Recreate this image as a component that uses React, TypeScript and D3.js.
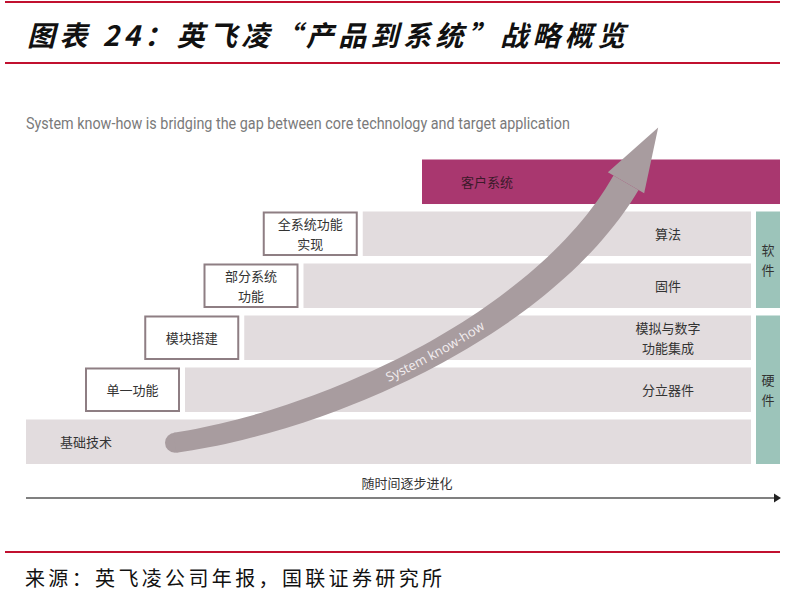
import React from 'react';
import * as d3 from 'd3';

const titleText = '图表 24：英飞凌“产品到系统”战略概览';
const subtitleText = 'System know-how is bridging the gap between core technology and target application';
const sourceText = '来源：英飞凌公司年报，国联证券研究所';
const axisLabel = '随时间逐步进化';
const arrowLabel = 'System know-how';

// rows from top to bottom, with level (0 = foundation)
const rowNames = ['客户系统', '算法', '固件', '模拟与数字\n功能集成', '分立器件', '基础技术'];
const rowLevels = [5, 4, 3, 2, 1, 0];
// step boxes: label and level they attach to
const stepLabels = ['单一功能', '模块搭建', '部分系统\n功能', '全系统功能\n实现'];
const stepLevels = [1, 2, 3, 4];
// side groups
const groupLabels = ['软件', '硬件'];
const groupRows = [['算法', '固件'], ['模拟与数字\n功能集成', '分立器件', '基础技术']];

const W = 796, H = 611;
const CJK = '"Noto Sans CJK SC", "Noto Sans", sans-serif';

export default function App() {
  const y = d3.scaleBand<string>().domain(rowNames).range([159.5, 464]).paddingInner(0.144).paddingOuter(0);
  const bw = y.bandwidth();
  const xLevel = d3.scaleLinear().domain([1, 5]).range([185, 422]);
  const leftEdge = 26, barRight = 751, rightEdge = 780, sideLeft = 756;
  const boxW = 93, boxGap = 6;
  const xStart = (lvl: number) => (lvl === 0 ? leftEdge : xLevel(lvl));

  // arrow geometry (cubic bezier)
  const baseRow = rowNames[5];
  const topRow = rowNames[0];
  const P0 = [175, (y(baseRow) as number) + bw / 2 + 1];
  const P1 = [330, 420];
  const P2 = [545, 322];
  const P3 = [626, (y(topRow) as number) + bw / 2 + 1];
  const bez = (t: number) => {
    const a = (1 - t) ** 3, b = 3 * (1 - t) ** 2 * t, c = 3 * (1 - t) * t * t, d = t ** 3;
    return [a * P0[0] + b * P1[0] + c * P2[0] + d * P3[0], a * P0[1] + b * P1[1] + c * P2[1] + d * P3[1]];
  };
  const dbez = (t: number) => {
    const a = 3 * (1 - t) ** 2, b = 6 * (1 - t) * t, c = 3 * t * t;
    return [a * (P1[0] - P0[0]) + b * (P2[0] - P1[0]) + c * (P3[0] - P2[0]), a * (P1[1] - P0[1]) + b * (P2[1] - P1[1]) + c * (P3[1] - P2[1])];
  };
  const N = 60;
  const left: [number, number][] = [];
  const right: [number, number][] = [];
  for (let i = 0; i <= N; i++) {
    const t = i / N;
    const p = bez(t), dv = dbez(t);
    const L = Math.hypot(dv[0], dv[1]);
    const nx = -dv[1] / L, ny = dv[0] / L;
    const w = (20 + 9 * t) / 2;
    left.push([p[0] + nx * w, p[1] + ny * w]);
    right.push([p[0] - nx * w, p[1] - ny * w]);
  }
  const shaft = d3.line()([...left, ...right.reverse()]) + 'Z';
  const dv = dbez(1);
  const Ld = Math.hypot(dv[0], dv[1]);
  const ux = dv[0] / Ld, uy = dv[1] / Ld;
  const nx = -uy, ny = ux;
  const headLen = 64, headHalf = 21;
  const head = d3.line()([
    [P3[0] + ux * headLen, P3[1] + uy * headLen],
    [P3[0] + nx * headHalf, P3[1] + ny * headHalf],
    [P3[0] - nx * headHalf, P3[1] - ny * headHalf],
  ]) + 'Z';
  const center = d3.path();
  center.moveTo(P0[0], P0[1]);
  center.bezierCurveTo(P1[0], P1[1], P2[0], P2[1], P3[0], P3[1]);

  const arrowColor = '#a89c9f';
  const grayBar = '#e2dcde';
  const boxStroke = '#8e7e83';
  const textColor = '#333';

  const multiline = (s: string, cx: number, cy: number, size: number, fill = textColor, lh = 20) => {
    const lines = s.split('\n');
    const off = -((lines.length - 1) * lh) / 2;
    return lines.map((l, i) => (
      <text key={i} x={cx} y={cy + off + i * lh} textAnchor="middle" dominantBaseline="central"
        fontFamily={CJK} fontSize={size} fill={fill}>{l}</text>
    ));
  };

  const axisY = 498;

  return (
    <svg width={W} height={H} style={{ position: 'absolute', left: 0, top: 0, background: '#fff' }}>
      {/* header */}
      <line x1={5} x2={780} y1={2} y2={2} stroke="#c1102f" strokeWidth={2.2} />
      <text x={27} y={46} fontFamily={CJK} fontSize={28} fontWeight="bold" fontStyle="italic" fill="#111"
        textLength={598} lengthAdjust="spacing">{titleText}</text>
      <line x1={5} x2={780} y1={63} y2={63} stroke="#c1102f" strokeWidth={2} />

      <text x={26} y={129} fontFamily='"Liberation Sans Narrow", Roboto, sans-serif' fontSize={17} fill="#7a7a7a"
        textLength={544} lengthAdjust="spacingAndGlyphs">{subtitleText}</text>

      {/* rows */}
      {rowNames.map((r, i) => {
        const lvl = rowLevels[i];
        const x0 = xStart(lvl);
        const top = i === 0;
        return (
          <rect key={r} x={x0} y={y(r)} width={(top ? rightEdge : barRight) - x0} height={bw}
            fill={top ? '#a9376f' : grayBar} />
        );
      })}

      {/* step boxes */}
      {stepLabels.map((s, i) => {
        const lvl = stepLevels[i];
        const row = rowNames[rowLevels.indexOf(lvl)];
        const xr = xLevel(lvl) - boxGap;
        const y0 = y(row) as number;
        return (
          <g key={s}>
            <rect x={xr - boxW} y={y0 + 1} width={boxW} height={bw - 2} fill="#fff" stroke={boxStroke} strokeWidth={2} />
            {multiline(s, xr - boxW / 2, y0 + bw / 2, 13)}
          </g>
        );
      })}

      {/* row labels */}
      {rowNames.map((r, i) => {
        const cy = (y(r) as number) + bw / 2;
        if (i === 0) return <g key={r}>{multiline(r, 487, cy, 13, '#3b1a2a')}</g>;
        if (i === 5) return <text key={r} x={60} y={cy} dominantBaseline="central" fontFamily={CJK} fontSize={13} fill={textColor}>{r}</text>;
        return <g key={r}>{multiline(r, 668, cy, 13)}</g>;
      })}

      {/* side groups */}
      {groupLabels.map((g, i) => {
        const rs = groupRows[i];
        const y0 = y(rs[0]) as number;
        const y1 = (y(rs[rs.length - 1]) as number) + bw;
        const cy = (y0 + y1) / 2;
        return (
          <g key={g}>
            <rect x={sideLeft} y={y0} width={rightEdge - sideLeft} height={y1 - y0} fill="#9cc4ba" />
            {g.split('').map((c, k) => (
              <text key={k} x={(sideLeft + rightEdge) / 2} y={cy - 10 + k * 20} textAnchor="middle" dominantBaseline="central"
                fontFamily={CJK} fontSize={13} fill={textColor}>{c}</text>
            ))}
          </g>
        );
      })}

      {/* arrow */}
      <circle cx={P0[0]} cy={P0[1]} r={10} fill={arrowColor} />
      <path d={shaft} fill={arrowColor} />
      <path d={head} fill={arrowColor} />
      <path id="kh" d={center.toString()} fill="none" stroke="none" />
      <text fontFamily='"Open Sans", sans-serif' fontSize={13} fill="#f3eef0" dominantBaseline="central">
        <textPath href="#kh" startOffset={222}>{arrowLabel}</textPath>
      </text>

      {/* time axis */}
      <text x={407} y={482} textAnchor="middle" dominantBaseline="central" fontFamily={CJK} fontSize={13} fill={textColor}>{axisLabel}</text>
      <line x1={leftEdge} x2={775} y1={axisY} y2={axisY} stroke="#808080" strokeWidth={2} />
      <path d={d3.line()([[774, axisY - 4.5], [781, axisY], [774, axisY + 4.5]]) + 'Z'} fill="#222" />

      {/* footer */}
      <line x1={5} x2={780} y1={552} y2={552} stroke="#c1102f" strokeWidth={2} />
      <text x={25} y={586} fontFamily={CJK} fontSize={20} fill="#111" textLength={417} lengthAdjust="spacing">{sourceText}</text>
    </svg>
  );
}
